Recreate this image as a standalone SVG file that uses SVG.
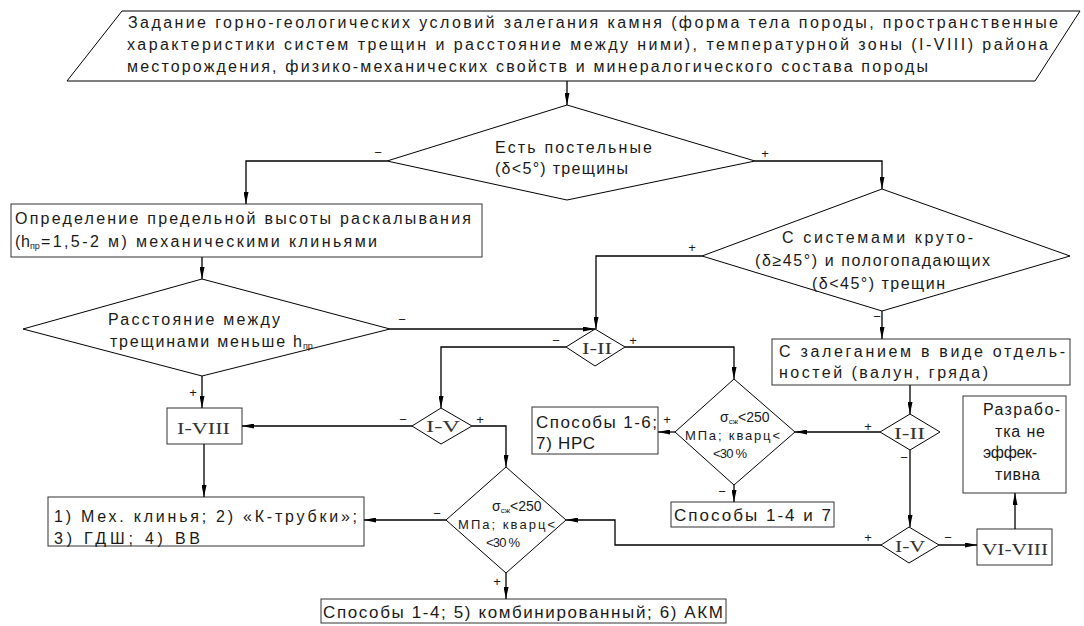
<svg xmlns="http://www.w3.org/2000/svg" width="1084" height="626" viewBox="0 0 1084 626">
<style>
.n{fill:#fff;stroke:#333;stroke-width:1}
.c{fill:none;stroke:#000;stroke-width:1.3}
text{font-family:"Liberation Sans",Arial,sans-serif;fill:#1a1a1a}
.t{font-size:16px}
.s{font-size:13px}
.b{font-size:17px}
.r{font-family:"Liberation Serif","Times New Roman",serif;font-size:17px;fill:#333}
.sub{font-size:9px}
.l{font-size:13px;text-anchor:middle}
</style>
<defs>
<marker id="a" viewBox="0 0 12 5" refX="12" refY="2.5" markerWidth="12" markerHeight="5" markerUnits="userSpaceOnUse" orient="auto">
<path d="M0,0 L12,2.5 L0,5 z" fill="#000"/>
</marker>
</defs>
<rect width="1084" height="626" fill="#fff"/>

<g id="start">
<polygon class="n" points="122,11 1080,11 1035,81 67,81" style="stroke:#000"/>
<text class="t" x="128" y="28" textLength="930" lengthAdjust="spacing">Задание горно-геологических условий залегания камня (форма тела породы, пространственные</text>
<text class="t" x="127" y="50" textLength="921" lengthAdjust="spacing">характеристики систем трещин и расстояние между ними), температурной зоны (I-VIII) района</text>
<text class="t" x="127" y="72" textLength="801" lengthAdjust="spacing">месторождения, физико-механических свойств и минералогического состава породы</text>
</g>

<g id="d1">
<polygon class="n" points="567,105 755,161 567,200 387,161" style="stroke:#000"/>
<text class="t" x="495" y="153" textLength="157" lengthAdjust="spacing">Есть постельные</text>
<text class="t" x="495" y="174" textLength="133" lengthAdjust="spacing">(δ&lt;5°) трещины</text>
</g>

<g id="box1">
<rect class="n" x="11" y="204" width="471" height="53"/>
<text class="t" x="15" y="224" textLength="456" lengthAdjust="spacing">Определение предельной высоты раскалывания</text>
<text class="t" x="15" y="247" textLength="15" lengthAdjust="spacing">(h</text>
<text class="sub" x="30" y="249">пр</text>
<text class="t" x="41" y="247" textLength="336" lengthAdjust="spacing">=1,5-2 м) механическими клиньями</text>
</g>

<g id="d2">
<polygon class="n" points="882,189 1070,256 882,311 702,256" style="stroke:#000"/>
<text class="t" x="782" y="243" textLength="191" lengthAdjust="spacing">С системами круто-</text>
<text class="t" x="755" y="266" textLength="235" lengthAdjust="spacing">(δ≥45°) и пологопадающих</text>
<text class="t" x="812" y="289" textLength="133" lengthAdjust="spacing">(δ&lt;45°) трещин</text>
</g>

<g id="d3">
<polygon class="n" points="202,279 390,329 202,376 23,329" style="stroke:#000"/>
<text class="t" x="108" y="325" textLength="172" lengthAdjust="spacing">Расстояние между</text>
<text class="t" x="110" y="347" textLength="192" lengthAdjust="spacing">трещинами меньше h</text>
<text class="sub" x="303" y="349">пр</text>
</g>

<g id="boxC">
<rect class="n" x="772" y="339" width="298" height="46"/>
<text class="t" x="779" y="357" textLength="286" lengthAdjust="spacing">С залеганием в виде отдель-</text>
<text class="t" x="779" y="378" textLength="209" lengthAdjust="spacing">ностей (валун, гряда)</text>
</g>

<g id="d4">
<polygon class="n" points="595,329 625,347 595,366 566,347" style="stroke:#000"/>
<text class="r" x="582" y="354" textLength="30" lengthAdjust="spacingAndGlyphs">I-II</text>
</g>

<g id="d5">
<polygon class="n" points="441,408 472,426 441,444 412,426" style="stroke:#000"/>
<text class="r" x="426" y="432" textLength="34" lengthAdjust="spacingAndGlyphs">I-V</text>
</g>

<g id="boxI8">
<rect class="n" x="167" y="408" width="75" height="36"/>
<text class="r" x="177" y="434" textLength="53" lengthAdjust="spacingAndGlyphs">I-VIII</text>
</g>

<g id="dSR">
<polygon class="n" points="734,379 795,432 734,485 675,432" style="stroke:#000"/>
<text x="720" y="422" style="font-size:14px">σ<tspan style="font-size:8px" dy="2">сж</tspan><tspan dy="-2">&lt;250</tspan></text>
<text class="s" x="685" y="440" textLength="95" lengthAdjust="spacing">МПа; кварц&lt;</text>
<text class="s" x="713" y="458" textLength="34" lengthAdjust="spacing">&lt;30 %</text>
</g>

<g id="boxNRC">
<rect class="n" x="532" y="407" width="126" height="47"/>
<text class="b" x="536" y="428" textLength="121" lengthAdjust="spacing">Способы 1-6;</text>
<text class="b" x="536" y="449" textLength="59" lengthAdjust="spacing">7) НРС</text>
</g>

<g id="boxR">
<rect class="n" x="963" y="396" width="103" height="97"/>
<text class="t" x="983" y="415" textLength="77" lengthAdjust="spacing">Разрабо-</text>
<text class="t" x="995" y="437" textLength="50" lengthAdjust="spacing">тка не</text>
<text class="t" x="983" y="458" textLength="54" lengthAdjust="spacing">эффек-</text>
<text class="t" x="995" y="480" textLength="45" lengthAdjust="spacing">тивна</text>
</g>

<g id="d6">
<polygon class="n" points="910,414 940,432 910,450 880,432" style="stroke:#000"/>
<text class="r" x="894" y="439" textLength="31" lengthAdjust="spacingAndGlyphs">I-II</text>
</g>

<g id="dSL">
<polygon class="n" points="506,467 566,520 506,573 446,520" style="stroke:#000"/>
<text x="492" y="511" style="font-size:14px">σ<tspan style="font-size:8px" dy="2">сж</tspan><tspan dy="-2">&lt;250</tspan></text>
<text class="s" x="458" y="529" textLength="97" lengthAdjust="spacing">МПа; кварц&lt;</text>
<text class="s" x="486" y="547" textLength="34" lengthAdjust="spacing">&lt;30 %</text>
</g>

<g id="box17">
<rect class="n" x="671" y="502" width="163" height="25"/>
<text class="b" x="674" y="521" textLength="157" lengthAdjust="spacing">Способы 1-4 и 7</text>
</g>

<g id="box1to4">
<rect class="n" x="48" y="497" width="316" height="49"/>
<text class="t" x="54" y="522" textLength="303" lengthAdjust="spacing">1) Мех. клинья; 2) «К-трубки»;</text>
<text class="t" x="54" y="544" textLength="146" lengthAdjust="spacing">3) ГДШ; 4) ВВ</text>
</g>

<g id="d7">
<polygon class="n" points="909,527 939,545 909,563 881,545" style="stroke:#000"/>
<text class="r" x="895" y="552" textLength="30" lengthAdjust="spacingAndGlyphs">I-V</text>
</g>

<g id="boxVI">
<rect class="n" x="977" y="529" width="75" height="36"/>
<text class="r" x="982" y="555" textLength="66" lengthAdjust="spacingAndGlyphs">VI-VIII</text>
</g>

<g id="boxBottom">
<rect class="n" x="321" y="599" width="405" height="24"/>
<text class="b" x="323" y="618" textLength="400" lengthAdjust="spacing">Способы 1-4; 5) комбинированный; 6) АКМ</text>
</g>

<g id="connectors">
<path class="c" marker-end="url(#a)" d="M567,81 V105"/>
<path class="c" marker-end="url(#a)" d="M387,161 H246 V204"/>
<path class="c" marker-end="url(#a)" d="M755,161 H882 V189"/>
<path class="c" marker-end="url(#a)" d="M202,257 V279"/>
<path class="c" marker-end="url(#a)" d="M202,376 V408"/>
<path class="c" marker-end="url(#a)" d="M390,329 H595"/>
<path class="c" marker-end="url(#a)" d="M702,256 H596 V329"/>
<path class="c" marker-end="url(#a)" d="M882,311 V339"/>
<path class="c" marker-end="url(#a)" d="M566,347 H441 V408"/>
<path class="c" marker-end="url(#a)" d="M625,347 H734 V379"/>
<path class="c" marker-end="url(#a)" d="M412,426 H242"/>
<path class="c" marker-end="url(#a)" d="M472,426 H506 V467"/>
<path class="c" marker-end="url(#a)" d="M204,444 V497"/>
<path class="c" marker-end="url(#a)" d="M446,520 H364"/>
<path class="c" marker-end="url(#a)" d="M506,573 V599"/>
<path class="c" marker-end="url(#a)" d="M675,432 H658"/>
<path class="c" marker-end="url(#a)" d="M734,485 V502"/>
<path class="c" marker-end="url(#a)" d="M910,385 V414"/>
<path class="c" marker-end="url(#a)" d="M880,432 H795"/>
<path class="c" marker-end="url(#a)" d="M910,450 V527"/>
<path class="c" marker-end="url(#a)" d="M881,545 H615 V520 H566"/>
<path class="c" marker-end="url(#a)" d="M939,545 H977"/>
<path class="c" marker-end="url(#a)" d="M1015,529 V493"/>
<text class="l" x="378" y="157">−</text>
<text class="l" x="765" y="158">+</text>
<text class="l" x="402" y="324">−</text>
<text class="l" x="193" y="397">+</text>
<text class="l" x="692" y="252">+</text>
<text class="l" x="877" y="321">−</text>
<text class="l" x="556" y="345">−</text>
<text class="l" x="633" y="345">+</text>
<text class="l" x="403" y="424">−</text>
<text class="l" x="480" y="424">+</text>
<text class="l" x="437" y="518">−</text>
<text class="l" x="497" y="586">+</text>
<text class="l" x="667" y="424">+</text>
<text class="l" x="722" y="496">−</text>
<text class="l" x="868" y="431">+</text>
<text class="l" x="904" y="462">−</text>
<text class="l" x="868" y="542">+</text>
<text class="l" x="948" y="542">−</text>
</g>
</svg>
